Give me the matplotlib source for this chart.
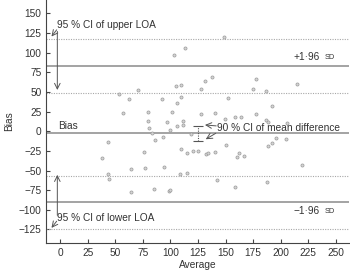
import matplotlib
matplotlib.use("Agg")
import matplotlib.pyplot as plt
import numpy as np

plt.rcParams['font.family'] = ['Liberation Sans', 'DejaVu Sans']

average = [53.5, 62.7, 70.2, 57.2, 80.0, 79.3, 80.4, 83.2, 92.5, 101.6, 96.7, 99.4,
           103.1, 113.1, 148.4, 104.6, 109.2, 131.1, 137.7, 127.7, 177.3, 175.1, 186.7,
           214.5, 151.8, 191.9, 109.6, 106.2, 127.4, 140.4, 149.9, 158.2, 163.9, 177.6,
           186.7, 188.5, 206.1, 105.5, 111.3, 111.3, 118.9, 86.4, 93.2, 150.2, 109.6,
           114.9, 120.6, 125.3, 132.0, 133.8, 140.4, 162.3, 160.1, 166.9, 93.9,
           188.2, 192.2, 195.8, 204.9, 219.3, 43.0, 38.3, 75.7, 64.2, 76.5, 43.5, 44.0,
           64.2, 85.5, 98.5, 100.0, 108.5, 115.3, 142.6, 158.7, 187.3]
bias = [47.2, 41.2, 52.7, 23.3, 25.0, 13.1, 3.8, -2.2, 40.8, 24.6, 11.2, 1.3,
        97.3, 105.6, 119.4, 57.1, 58.7, 64.2, 69.3, 53.6, 66.3, 53.6, 50.8,
        59.9, 42.1, 32.3, 43.1, 36.1, 21.8, 23.0, 15.4, 17.6, 17.9, 21.7,
        13.8, 11.9, 11.0, 6.8, 8.0, 13.1, -3.4, -11.1, -7.9, -17.5, -22.8,
        -27.7, -25.4, -25.4, -29.2, -28.1, -26.1, -27.3, -33.2, -31.1, -45.8,
        -18.8, -15.3, -8.2, -10.2, -43.0, -14.3, -33.8, -26.8, -48.5, -46.6, -54.7, -60.2,
        -77.8, -73.6, -75.8, -74.2, -54.7, -53.6, -62.5, -70.7, -64.3]

mean_diff = -2.5
upper_loa = 83.3
lower_loa = -89.5
upper_ci = [49.2, 117.7]
lower_ci = [-124.6, -56.6]
mean_ci = [-12.4, 7.2]
mean_ci_x = 125.3

xticks = [0, 25, 50, 75, 100, 125, 150, 175, 200, 225, 250]
yticks = [-125, -100, -75, -50, -25, 0, 25, 50, 75, 100, 125, 150]

fig = plt.figure(figsize=(3.5, 2.71), dpi=100)
ax = fig.add_axes([0.132, 0.104, 0.865, 0.896])

solid_c = '#8a8a8a'
dot_c = '#a8a8a8'
txt_c = '#333333'

ax.scatter(average, bias, s=5, facecolor='#d4d4d4', edgecolor='#9a9a9a', linewidth=0.5, zorder=3)

for v in [mean_diff, upper_loa, lower_loa]:
    ax.axhline(v, color=solid_c, lw=1.1, zorder=2)
for v in upper_ci + lower_ci:
    ax.axhline(v, color=dot_c, lw=0.8, ls=(0, (1, 1.2)), zorder=2)

# CI of mean difference
ax.vlines(mean_ci_x, mean_ci[0], mean_ci[1], color='#555555', lw=0.8, ls=(0, (1, 1.2)), zorder=4)
ax.hlines(mean_ci, mean_ci_x - 4.5, mean_ci_x + 4.5, color='#555555', lw=0.8, zorder=4)

fs = 7.3
ax.text(-2.7, 134.7, '95 % CI of upper LOA', fontsize=fs, color=txt_c, ha='left', va='center')
ax.annotate('', xy=(-8, 120.5), xytext=(-3.3, 129),
            arrowprops=dict(arrowstyle='->', color='#555555', lw=0.7, shrinkA=0, shrinkB=0))
ax.annotate('', xy=(-2.7, 52.5), xytext=(-2.7, 127),
            arrowprops=dict(arrowstyle='->', color='#555555', lw=0.7, shrinkA=0, shrinkB=0))

ax.text(-3.3, -111, '95 % CI of lower LOA', fontsize=fs, color=txt_c, ha='left', va='center')
ax.annotate('', xy=(-8, -123), xytext=(-3.3, -114.5),
            arrowprops=dict(arrowstyle='->', color='#555555', lw=0.7, shrinkA=0, shrinkB=0))
ax.annotate('', xy=(-2.7, -55.5), xytext=(-2.7, -107),
            arrowprops=dict(arrowstyle='->', color='#555555', lw=0.7, shrinkA=0, shrinkB=0))

ax.text(-2.1, 7.1, 'Bias', fontsize=fs, color=txt_c, ha='left', va='center')

ax.text(142.6, 4.2, '90 % CI of mean difference', fontsize=fs, color=txt_c, ha='left', va='center')
ax.annotate('', xy=(131.3, 8), xytext=(141.5, 6.8),
            arrowprops=dict(arrowstyle='->', color='#555555', lw=0.7, shrinkA=0, shrinkB=0))
ax.annotate('', xy=(132, -10.2), xytext=(141.1, -2.6),
            arrowprops=dict(arrowstyle='->', color='#555555', lw=0.7, shrinkA=0, shrinkB=0))

# +/- 1.96 SD labels
ax.annotate('SD', xy=(249, 93.5), fontsize=5.3, color=txt_c, ha='right', va='center')
ax.annotate('+1·96', xy=(249, 93.5), xytext=(-11, 0.4), textcoords='offset points',
            fontsize=fs, color=txt_c, ha='right', va='center')
ax.annotate('SD', xy=(249, -101.7), fontsize=5.3, color=txt_c, ha='right', va='center')
ax.annotate('\u22121·96', xy=(249, -101.7), xytext=(-11, 0.4), textcoords='offset points',
            fontsize=fs, color=txt_c, ha='right', va='center')

ax.set_xlim(-12.8, 262)
ax.set_ylim(-142, 167)
ax.set_xticks(xticks)
ax.set_yticks(yticks)
ax.set_yticklabels([str(t).replace('-', '\u2212') for t in yticks])
ax.tick_params(direction='in', length=3, width=0.8, color='#444444', labelsize=fs, labelcolor=txt_c)
for s in ['top', 'right']:
    ax.spines[s].set_visible(False)
for s in ['left', 'bottom']:
    ax.spines[s].set_color('#444444')
    ax.spines[s].set_linewidth(0.8)

ax.set_xlabel('Average', fontsize=fs, color=txt_c, labelpad=2)
ax.set_ylabel('Bias', fontsize=fs, color=txt_c, labelpad=3)

fig.savefig('out.png', dpi=100)
